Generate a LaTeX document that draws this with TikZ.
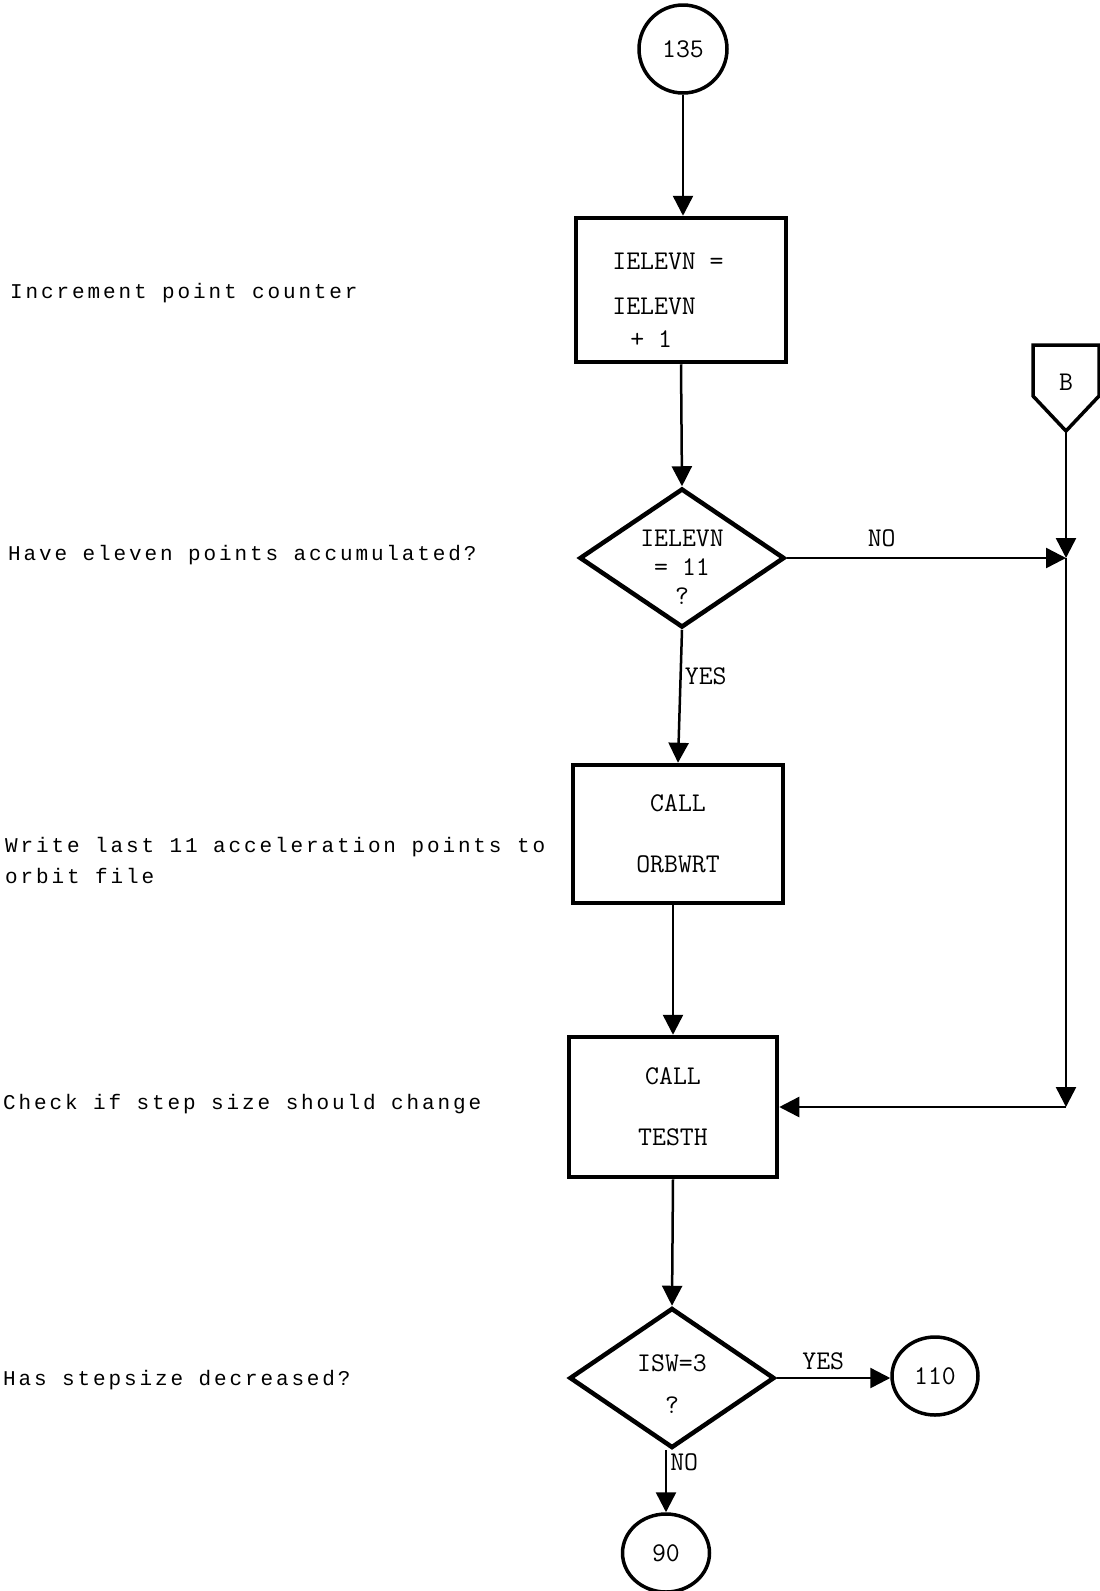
\documentclass[tikz,border=0pt]{standalone}
\usepackage{fontspec}
\usetikzlibrary{shapes.geometric, arrows.meta}
\newfontfamily\notefont[LetterSpace=13.7]{Liberation Mono}
\newcommand{\chartfont}{\ttfamily\fontsize{27}{33}\selectfont}

\begin{document}
\begin{tikzpicture}[x=1pt, y=-1pt,
		box/.style={draw, line width=4.5pt, minimum width=210pt, minimum height=140pt, align=center, font=\chartfont},
		test/.style={draw, diamond, aspect=1.49, inner sep=-8pt, line width=4.5pt, minimum width=205pt, minimum height=139pt, align=center, font=\chartfont},
		conn/.style={draw, circle, line width=3.5pt, minimum size=88pt, inner sep=0pt, font=\chartfont},
		oval/.style={draw, ellipse, line width=3.5pt, minimum width=86pt, minimum height=78pt, inner sep=0pt, font=\chartfont},
		note/.style={anchor=west, inner sep=0pt, align=left, font=\notefont\fontsize{21}{31}\selectfont},
		flow/.style={line width=2.5pt, -{Triangle[length=20pt, width=20pt]}},
		lbl/.style={font=\chartfont, inner sep=3pt}]
		\path[use as bounding box, fill=white] (0,0) rectangle (1100,1591);
		
		\node[conn] (c135) at (683,49) {135};
		\node[box, align=left, minimum height=144pt] (p1) at (681,290) {\rule{0pt}{36pt}IELEVN =\hspace*{26pt}\\[12pt]IELEVN\\\hspace*{18pt}+ 1};
		\node[test] (q1) at (682,558) {\rule{0pt}{34pt}IELEVN\\[-4pt]= 11\\[-4pt]?};
		\node[box, minimum height=138pt] (p2) at (678,834) {CALL\\[28pt]ORBWRT};
		\node[box, minimum width=208pt] (p3) at (673,1107) {CALL\\[28pt]TESTH};
		\node[test, minimum height=140pt] (q2) at (672,1378) {\rule{0pt}{29pt}ISW=3\\[9pt]?};
		\node[oval] (c110) at (935,1376) {110};
		\node[oval, minimum width=87pt] (c90) at (666,1553) {90};
		\node[font=\chartfont] (nB) at (1066,382) {B};
		\draw[line width=3.5pt] (1033,345) -- (1099,345) -- (1099,396) -- (1066,431) -- (1033,396) -- cycle;
		
		\coordinate (bt) at (1066,431);
		\coordinate (jn) at (bt |- q1.east);
		\coordinate (jc) at (bt |- p3.east);
		
		\draw[flow] (c135.south) -- (c135.south |- p1.north);
		\draw[flow] (p1.south) -- (q1.north);
		\draw[flow] (q1.south) -- node[lbl, right, pos=0.35] {YES} (p2.north);
		\draw[flow] (p3.north |- p2.south) -- (p3.north);
		\draw[flow] (p3.south) -- (q2.north);
		\draw[flow] (q2.east) -- node[lbl, above=4pt, pos=0.41] {YES} (q2.east -| c110.west);
		\draw[flow] (c90.north |- q2.south) -- node[lbl, right, pos=0.2] {NO} (c90.north);
		\draw[flow] (q1.east) -- node[lbl, above=7pt, pos=0.34] {NO} (jn);
		\draw[flow] (bt) -- (jn);
		\draw[flow] (jn) -- (jc);
		\draw[flow] (jc) -- (p3.east);
		
		\node[note] (t1) at (10,293) {Increment point counter};
		\node[note] (t2) at (8,555) {Have eleven points accumulated?};
		\node[note] (t3) at (5,860) {Write last 11 acceleration points to\\orbit file};
		\node[note] (t4) at (3,1104) {Check if step size should change};
		\node[note] (t5) at (3,1380) {Has stepsize decreased?};
		
\end{tikzpicture}
\end{document}
